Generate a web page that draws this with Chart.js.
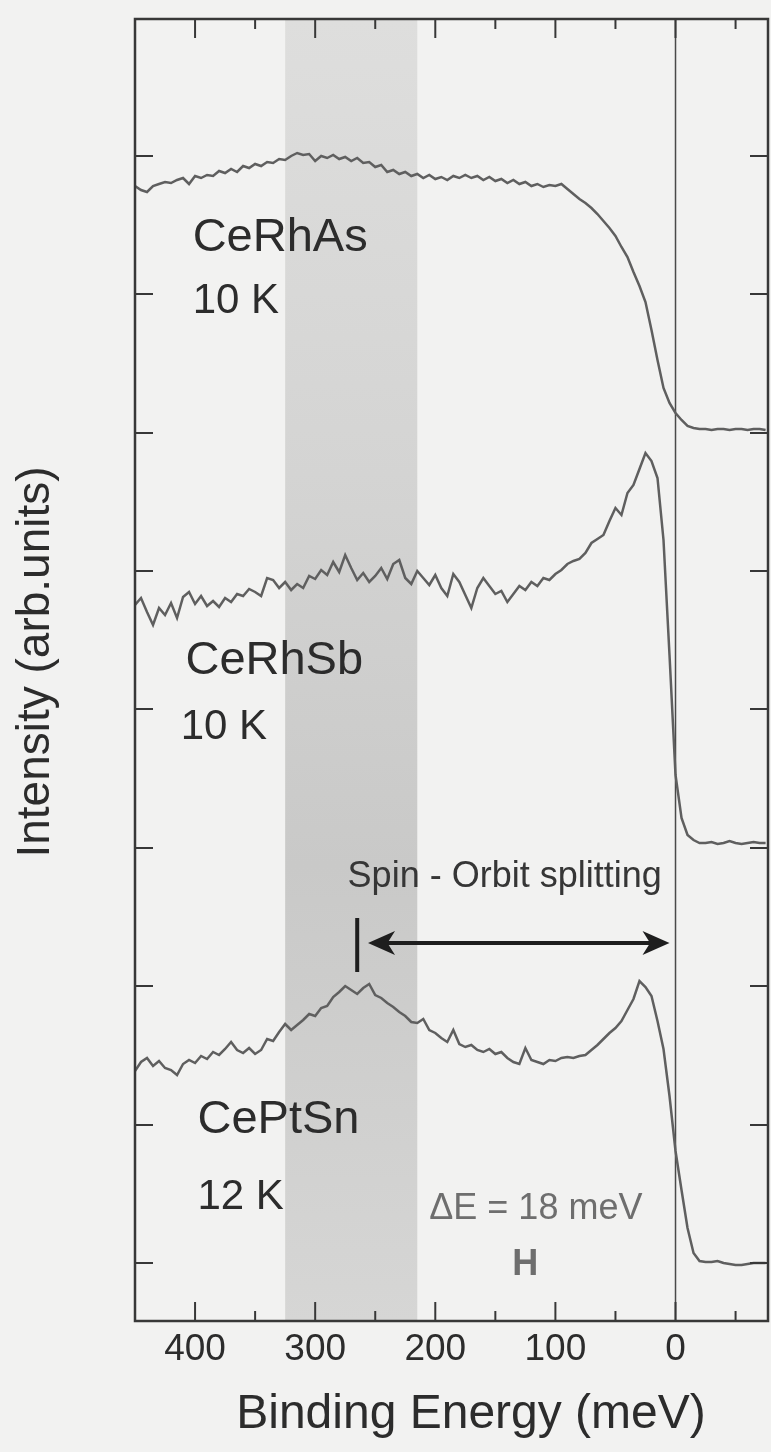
<!DOCTYPE html>
<html>
<head>
<meta charset="utf-8">
<script src="https://cdn.jsdelivr.net/npm/chart.js@4.4.1/dist/chart.umd.min.js"></script>
<style>
  html, body { margin: 0; padding: 0; background: #f2f2f1; }
  canvas { display: block; }
</style>
</head>
<body>
<canvas id="myChart" width="771" height="1452"></canvas>
<script>
// binding energy grid (meV)
const energy = [
  450,445,440,435,430,425,420,415,410,405,
  400,395,390,385,380,375,370,365,360,355,
  350,345,340,335,330,325,320,315,310,305,
  300,295,290,285,280,275,270,265,260,255,
  250,245,240,235,230,225,220,215,210,205,
  200,195,190,185,180,175,170,165,160,155,
  150,145,140,135,130,125,120,115,110,105,
  100,95,90,85,80,75,70,65,60,55,
  50,45,40,35,30,25,20,15,10,5,
  0,-5,-10,-15,-20,-25,-30,-35,-40,-45,
  -50,-55,-60,-65,-70,-75
];

// intensities (arb. units, curves offset as in the figure)
const ceRhAs = [
  1135,1131,1129,1135,1137,1139,1138,1141,1143,1137,
  1145,1143,1146,1145,1150,1148,1152,1149,1155,1153,
  1157,1155,1159,1158,1162,1161,1165,1168,1166,1167,
  1160,1165,1163,1166,1162,1164,1160,1163,1158,1159,
  1154,1156,1149,1151,1147,1149,1145,1147,1143,1146,
  1142,1144,1141,1145,1143,1146,1143,1145,1141,1144,
  1140,1142,1138,1141,1137,1139,1135,1137,1134,1136,
  1135,1137,1132,1127,1122,1118,1113,1107,1100,1093,
  1085,1074,1064,1049,1035,1019,991,961,933,918,
  908,901,895,893,892,892,891,892,892,891,
  892,892,891,892,892,891
];
const ceRhSb = [
  716,723,709,696,713,706,718,703,724,729,
  717,725,715,720,714,723,719,727,725,732,
  729,725,743,741,733,739,731,737,733,745,
  742,751,746,759,749,766,753,741,748,739,
  745,753,742,757,761,743,737,750,743,736,
  746,733,725,747,739,726,713,733,743,735,
  727,730,719,727,735,731,739,735,743,741,
  747,751,757,760,762,768,778,782,786,800,
  813,806,828,836,852,868,860,843,781,666,
  546,503,486,481,478,478,479,477,478,480,
  478,477,478,479,478,478
];
const cePtSn = [
  250,259,263,255,260,253,251,246,257,261,
  258,265,262,269,266,272,279,271,268,273,
  267,271,282,280,289,297,291,296,301,307,
  305,313,315,324,329,335,331,327,333,337,
  326,323,318,314,309,305,299,298,302,291,
  288,283,279,291,277,274,276,271,269,272,
  267,269,263,259,257,273,261,259,257,261,
  260,263,264,263,265,266,271,276,282,288,
  293,300,311,322,340,334,325,300,272,225,
  170,131,93,68,60,59,59,60,58,57,
  56,56,57,58,58,58
];

const xMajor = [400, 300, 200, 100, 0];
const xMinor = [350, 250, 150, 50, -50];
const yTicks = [58, 196, 335, 473, 612, 750, 888, 1027, 1165];
const bandRange = [325, 215];

const FONT = '"Liberation Sans", Arial, Helvetica, sans-serif';

function pts(vals) {
  return energy.map((e, i) => ({x: e, y: vals[i]}));
}

function seg(ctx, x1, y1, x2, y2) {
  ctx.beginPath();
  ctx.moveTo(x1, y1);
  ctx.lineTo(x2, y2);
  ctx.stroke();
}

function text(ctx, str, x, y, size, color, align, weight) {
  ctx.font = (weight || 'normal') + ' ' + size + 'px ' + FONT;
  ctx.fillStyle = color;
  ctx.textAlign = align || 'left';
  ctx.textBaseline = 'middle';
  ctx.fillText(str, x, y);
}

function arrowHead(ctx, tx, ty, dir) {
  // dir = +1 points right, -1 points left
  const L = 27, W = 12;
  ctx.beginPath();
  ctx.moveTo(tx, ty);
  ctx.lineTo(tx - dir * L, ty - W);
  ctx.lineTo(tx - dir * L * 0.72, ty);
  ctx.lineTo(tx - dir * L, ty + W);
  ctx.closePath();
  ctx.fill();
}

const deco = {
  id: 'deco',
  beforeDatasetsDraw(chart) {
    const {ctx, chartArea: a, scales: {x}} = chart;
    const x1 = x.getPixelForValue(bandRange[0]), x2 = x.getPixelForValue(bandRange[1]);
    const g = ctx.createLinearGradient(0, a.top, 0, a.bottom);
    g.addColorStop(0, '#dededd');
    g.addColorStop(0.35, '#d4d4d3');
    g.addColorStop(0.65, '#c9c9c8');
    g.addColorStop(1, '#d6d6d5');
    ctx.save();
    ctx.fillStyle = g;
    ctx.fillRect(Math.min(x1, x2), a.top, Math.abs(x2 - x1), a.bottom - a.top);
    const x0 = x.getPixelForValue(0);
    ctx.strokeStyle = '#4a4a4a';
    ctx.lineWidth = 1.5;
    seg(ctx, x0, a.top, x0, a.bottom);
    ctx.restore();
  },
  afterDatasetsDraw(chart) {
    const {ctx, chartArea: a, scales: {x, y}} = chart;
    ctx.save();
    ctx.strokeStyle = '#383838';
    ctx.lineWidth = 2.5;
    ctx.strokeRect(a.left, a.top, a.right - a.left, a.bottom - a.top);

    // inward ticks
    ctx.lineWidth = 2;
    xMajor.forEach(v => {
      const px = x.getPixelForValue(v);
      seg(ctx, px, a.bottom, px, a.bottom - 19);
      seg(ctx, px, a.top, px, a.top + 19);
    });
    xMinor.forEach(v => {
      const px = x.getPixelForValue(v);
      seg(ctx, px, a.bottom, px, a.bottom - 10);
      seg(ctx, px, a.top, px, a.top + 10);
    });
    yTicks.forEach(v => {
      const py = y.getPixelForValue(v);
      seg(ctx, a.left, py, a.left + 18, py);
      seg(ctx, a.right, py, a.right - 18, py);
    });

    // sample labels
    const ink = '#2c2c2c';
    text(ctx, 'CeRhAs', x.getPixelForValue(402), y.getPixelForValue(1083), 47, ink);
    text(ctx, '10 K', x.getPixelForValue(402), y.getPixelForValue(1020), 42, ink);
    text(ctx, 'CeRhSb', x.getPixelForValue(408), y.getPixelForValue(660), 47, ink);
    text(ctx, '10 K', x.getPixelForValue(412), y.getPixelForValue(594), 42, ink);
    text(ctx, 'CePtSn', x.getPixelForValue(398), y.getPixelForValue(201), 47, ink);
    text(ctx, '12 K', x.getPixelForValue(398), y.getPixelForValue(124), 42, ink);

    // spin-orbit annotation
    text(ctx, 'Spin - Orbit splitting', x.getPixelForValue(273), y.getPixelForValue(444), 36, '#363636');
    const ay = y.getPixelForValue(378);
    const xl = x.getPixelForValue(256), xr = x.getPixelForValue(5);
    ctx.strokeStyle = '#1e1e1e';
    ctx.fillStyle = '#1e1e1e';
    ctx.lineWidth = 4;
    seg(ctx, xl + 15, ay, xr - 15, ay);
    arrowHead(ctx, xl, ay, -1);
    arrowHead(ctx, xr, ay, 1);
    const mx = x.getPixelForValue(265);
    seg(ctx, mx, y.getPixelForValue(403), mx, y.getPixelForValue(349));

    // resolution
    text(ctx, '\u0394E = 18 meV', x.getPixelForValue(205), y.getPixelForValue(112), 36, '#6e6e6e');
    text(ctx, 'H', x.getPixelForValue(125), y.getPixelForValue(56), 36, '#6e6e6e', 'center', 'bold');

    // axis titles
    text(ctx, 'Binding Energy (meV)', 471, 1415, 48, '#2c2c2c', 'center');
    ctx.translate(36, 662);
    ctx.rotate(-Math.PI / 2);
    text(ctx, 'Intensity (arb.units)', 0, 0, 46, '#2c2c2c', 'center');
    ctx.restore();
  }
};

const line = (vals) => ({
  data: pts(vals),
  borderColor: '#5f5f5f',
  borderWidth: 2.5,
  pointRadius: 0,
  tension: 0,
  fill: false
});

new Chart('myChart', {
  type: 'line',
  data: {
    datasets: [
      Object.assign({label: 'CeRhAs 10 K'}, line(ceRhAs)),
      Object.assign({label: 'CeRhSb 10 K'}, line(ceRhSb)),
      Object.assign({label: 'CePtSn 12 K'}, line(cePtSn))
    ]
  },
  options: {
    responsive: false,
    animation: false,
    layout: {padding: {left: 135, top: 19, right: 3, bottom: 0}},
    plugins: {legend: {display: false}, tooltip: {enabled: false}},
    scales: {
      x: {
        type: 'linear',
        reverse: true,
        min: -77,
        max: 450,
        afterBuildTicks: s => { s.ticks = xMajor.map(v => ({value: v})); },
        afterFit: s => { s.height = 131; },
        grid: {display: false, drawTicks: false},
        border: {display: false},
        ticks: {
          color: '#2c2c2c',
          padding: 7,
          autoSkip: false,
          maxRotation: 0,
          font: {family: FONT, size: 37}
        }
      },
      y: {display: false, min: 0, max: 1302}
    }
  },
  plugins: [deco]
});
</script>
</body>
</html>
